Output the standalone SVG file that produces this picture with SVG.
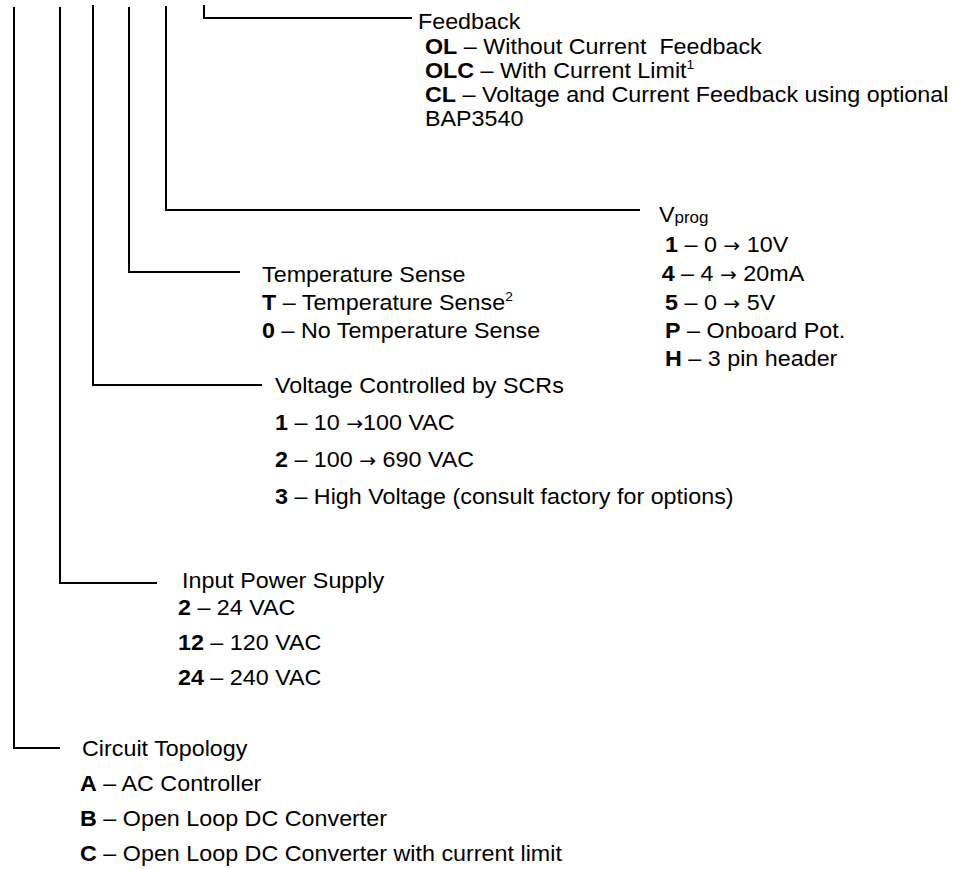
<svg xmlns="http://www.w3.org/2000/svg" width="953" height="869" viewBox="0 0 953 869">
<style>
.ln{fill:none;stroke:#000;stroke-width:2}
text{font-family:"Liberation Sans",Arial,sans-serif;font-size:22px;fill:#000}
.b{font-weight:bold}
.sup{font-size:13px}
.sub{font-size:16px}
.ar{font-family:"DejaVu Sans",sans-serif;font-size:19px}
.pre{white-space:pre}
</style>
<rect width="953" height="869" fill="#fff"/>
<g id="connectors">
<polyline class="ln" points="14,7 14,748 60,748"/>
<polyline class="ln" points="60,7 60,583 157,583"/>
<polyline class="ln" points="93,5 93,385 262,385"/>
<polyline class="ln" points="129,7 129,272 240,272"/>
<polyline class="ln" points="166,6 166,210 640,210"/>
<polyline class="ln" points="204,5 204,18 412,18"/>
</g>
<g transform="scale(1.06,1)">
<g id="feedback">
<text x="394.3" y="29">Feedback</text>
<text class="pre" x="400.9" y="54"><tspan class="b">OL</tspan> – Without Current  Feedback</text>
<text x="400.9" y="78"><tspan class="b">OLC</tspan> – With Current Limit<tspan class="sup" dy="-9">1</tspan></text>
<text x="400.9" y="102"><tspan class="b">CL</tspan> – Voltage and Current Feedback using optional</text>
<text x="400.9" y="126">BAP3540</text>
</g>
<g id="vprog">
<text x="621.7" y="222">V<tspan class="sub" dy="1">prog</tspan></text>
<text x="627.4" y="252"><tspan class="b">1</tspan> – 0 <tspan class="ar">→</tspan> 10V</text>
<text x="624.2" y="281"><tspan class="b">4</tspan> – 4 <tspan class="ar">→</tspan> 20mA</text>
<text x="627.4" y="310"><tspan class="b">5</tspan> – 0 <tspan class="ar">→</tspan> 5V</text>
<text x="627.4" y="338"><tspan class="b">P</tspan> – Onboard Pot.</text>
<text x="627.4" y="366"><tspan class="b">H</tspan> – 3 pin header</text>
</g>
<g id="temperature">
<text x="247.2" y="282">Temperature Sense</text>
<text x="247.2" y="310"><tspan class="b">T</tspan> – Temperature Sense<tspan class="sup" dy="-9">2</tspan></text>
<text x="247.2" y="338"><tspan class="b">0</tspan> – No Temperature Sense</text>
</g>
<g id="voltage">
<text x="259.4" y="393">Voltage Controlled by SCRs</text>
<text x="259.4" y="430"><tspan class="b">1</tspan> – 10 <tspan class="ar">→</tspan>100 VAC</text>
<text x="259.4" y="467"><tspan class="b">2</tspan> – 100 <tspan class="ar">→</tspan> 690 VAC</text>
<text x="259.4" y="504"><tspan class="b">3</tspan> – High Voltage (consult factory for options)</text>
</g>
<g id="input-power">
<text x="171.7" y="588">Input Power Supply</text>
<text x="167.9" y="615"><tspan class="b">2</tspan> – 24 VAC</text>
<text x="167.9" y="650"><tspan class="b">12</tspan> – 120 VAC</text>
<text x="167.9" y="685"><tspan class="b">24</tspan> – 240 VAC</text>
</g>
<g id="topology">
<text x="77.4" y="756">Circuit Topology</text>
<text x="75.5" y="791"><tspan class="b">A</tspan> – AC Controller</text>
<text x="75.5" y="826"><tspan class="b">B</tspan> – Open Loop DC Converter</text>
<text x="75.5" y="861"><tspan class="b">C</tspan> – Open Loop DC Converter with current limit</text>
</g>
</g>
</svg>
